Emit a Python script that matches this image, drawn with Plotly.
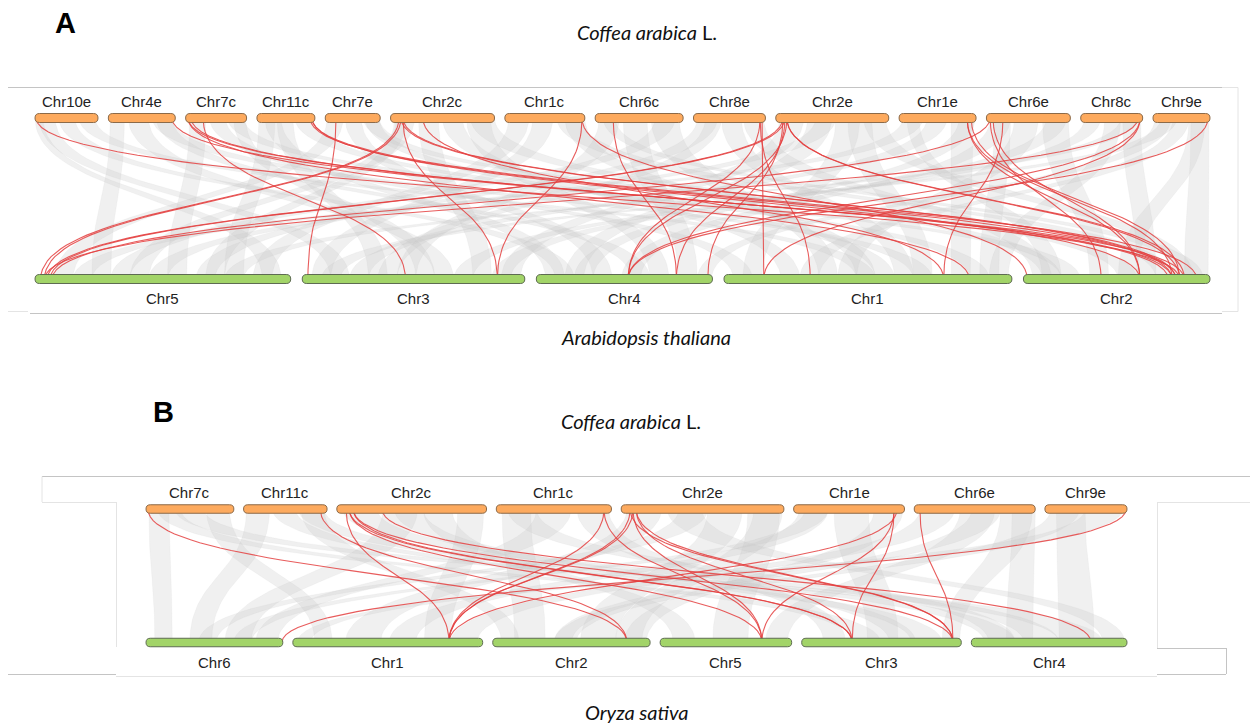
import numpy as np
import plotly.graph_objects as go

# ---------------- data ----------------
# Coffea arabica chromosome lengths (Mb)
coffea_names = ["Chr10e", "Chr4e", "Chr7c", "Chr11c", "Chr7e", "Chr2c", "Chr1c",
                "Chr6c", "Chr8e", "Chr2e", "Chr1e", "Chr6e", "Chr8c", "Chr9e"]
coffea_lengths = [31.5, 33.5, 30.5, 29.0, 27.5, 52.0, 40.0,
                  44.0, 36.0, 56.5, 38.5, 42.0, 31.0, 28.5]
# Arabidopsis thaliana chromosomes (Mb), in drawing order
arab_names = ["Chr5", "Chr3", "Chr4", "Chr1", "Chr2"]
arab_lengths = [27.0, 23.5, 18.6, 30.4, 19.7]
# Oryza sativa chromosomes (Mb), in drawing order
rice_names = ["Chr6", "Chr1", "Chr2", "Chr5", "Chr3", "Chr4"]
rice_lengths = [31.2, 43.3, 35.9, 30.0, 36.4, 35.5]
# Coffea chromosomes shown in panel B
coffea_names_B = ["Chr7c", "Chr11c", "Chr2c", "Chr1c", "Chr2e", "Chr1e", "Chr6e", "Chr9e"]

# Highlighted (red) collinear gene pairs: (coffea chr, Mb, other chr, Mb)
red_links_A = [
    ("Chr10e", 0.5, "Chr2", 16.5), ("Chr4e", 31.8, "Chr2", 17.0),
    ("Chr7c", 1.2, "Chr2", 15.7), ("Chr7c", 1.2, "Chr1", 25.9),
    ("Chr7c", 2.7, "Chr2", 15.3), ("Chr7c", 8.7, "Chr3", 10.9),
    ("Chr11c", 26.5, "Chr2", 16.1), ("Chr11c", 27.5, "Chr2", 18.3),
    ("Chr11c", 27.5, "Chr2", 12.3), ("Chr7e", 5.4, "Chr3", 0.6),
    ("Chr2c", 4.2, "Chr5", 0.6), ("Chr2c", 5.2, "Chr5", 1.0),
    ("Chr2c", 6.2, "Chr3", 20.6), ("Chr2c", 5.2, "Chr2", 15.7),
    ("Chr2c", 6.2, "Chr2", 16.1), ("Chr2c", 16.2, "Chr1", 23.2),
    ("Chr1c", 38.6, "Chr3", 20.6), ("Chr1c", 38.6, "Chr2", 0.4),
    ("Chr6c", 9.0, "Chr4", 14.8), ("Chr8e", 33.3, "Chr4", 9.7),
    ("Chr8e", 34.3, "Chr1", 4.2), ("Chr8e", 33.3, "Chr1", 9.1),
    ("Chr2e", 3.6, "Chr5", 1.3), ("Chr2e", 4.6, "Chr5", 1.6),
    ("Chr2e", 5.6, "Chr4", 9.7), ("Chr2e", 4.6, "Chr4", 14.8),
    ("Chr2e", 5.6, "Chr2", 16.5), ("Chr2e", 5.6, "Chr2", 17.0),
    ("Chr2e", 3.6, "Chr4", 18.1), ("Chr1e", 34.0, "Chr2", 15.7),
    ("Chr1e", 36.0, "Chr2", 16.5), ("Chr1e", 34.0, "Chr2", 12.3),
    ("Chr6e", 1.9, "Chr5", 1.8), ("Chr6e", 8.3, "Chr1", 23.2),
    ("Chr6e", 1.9, "Chr2", 8.2), ("Chr6e", 3.3, "Chr2", 12.3),
    ("Chr8c", 28.7, "Chr5", 1.0), ("Chr8c", 29.7, "Chr1", 4.2),
    ("Chr8c", 29.7, "Chr4", 9.7), ("Chr9e", 27.5, "Chr4", 9.7),
]
red_links_B = [
    ("Chr7c", 0.7, "Chr2", 30.6), ("Chr11c", 26.6, "Chr2", 30.6),
    ("Chr2c", 3.2, "Chr1", 35.6), ("Chr2c", 4.3, "Chr5", 23.2),
    ("Chr2c", 4.3, "Chr3", 11.5), ("Chr2c", 5.7, "Chr3", 11.5),
    ("Chr2c", 5.7, "Chr3", 34.5), ("Chr2c", 15.7, "Chr4", 27.3),
    ("Chr1c", 37.4, "Chr1", 35.6), ("Chr1c", 37.4, "Chr5", 23.2),
    ("Chr2e", 3.1, "Chr1", 35.6), ("Chr2e", 4.1, "Chr1", 35.6),
    ("Chr2e", 4.1, "Chr5", 23.2), ("Chr2e", 5.2, "Chr3", 11.5),
    ("Chr2e", 5.2, "Chr3", 34.5), ("Chr2e", 3.1, "Chr3", 34.5),
    ("Chr1e", 34.9, "Chr5", 23.2), ("Chr1e", 35.9, "Chr1", 35.6),
    ("Chr1e", 34.9, "Chr3", 11.5), ("Chr6e", 2.0, "Chr3", 34.5),
    ("Chr9e", 28.2, "Chr6", 31.0),
]

# Background (grey) syntenic blocks: (coffea chr, start, end, other chr, start, end) in Mb
grey_blocks_A = [
    ("Chr10e", 2, 10, "Chr3", 3, 5), ("Chr10e", 12, 20, "Chr4", 2, 4), ("Chr10e", 22, 30, "Chr1", 14, 16),
    ("Chr10e", 0, 4, "Chr5", 24, 26),
    ("Chr4e", 1, 8, "Chr5", 6, 8), ("Chr4e", 10, 20, "Chr3", 14, 16), ("Chr4e", 22, 32, "Chr1", 20, 22),
    ("Chr4e", 24, 32, "Chr4", 10, 12),
    ("Chr7c", 2, 10, "Chr5", 14, 16), ("Chr7c", 12, 20, "Chr1", 1, 3), ("Chr7c", 21, 29, "Chr2", 4, 6),
    ("Chr7c", 24, 30, "Chr3", 12, 14),
    ("Chr11c", 1, 9, "Chr5", 20, 22), ("Chr11c", 10, 18, "Chr3", 7, 9), ("Chr11c", 19, 28, "Chr1", 26, 28),
    ("Chr11c", 4, 12, "Chr4", 1, 3),
    ("Chr7e", 1, 9, "Chr5", 2, 4), ("Chr7e", 10, 18, "Chr4", 6, 8), ("Chr7e", 19, 27, "Chr2", 10, 12),
    ("Chr7e", 20, 27, "Chr1", 16, 18),
    ("Chr2c", 3, 12, "Chr5", 10, 12), ("Chr2c", 14, 24, "Chr3", 18, 20), ("Chr2c", 26, 36, "Chr1", 6, 8),
    ("Chr2c", 38, 50, "Chr4", 12, 14), ("Chr2c", 40, 52, "Chr2", 2, 4), ("Chr2c", 2, 8, "Chr5", 18, 20),
    ("Chr1c", 2, 12, "Chr5", 23, 25), ("Chr1c", 14, 24, "Chr3", 1, 3), ("Chr1c", 26, 38, "Chr2", 14, 16),
    ("Chr1c", 30, 40, "Chr1", 14, 16),
    ("Chr6c", 2, 12, "Chr3", 10, 12), ("Chr6c", 14, 26, "Chr4", 15, 17), ("Chr6c", 28, 42, "Chr1", 10, 12),
    ("Chr6c", 30, 40, "Chr5", 8, 10), ("Chr6c", 4, 10, "Chr2", 17, 19),
    ("Chr8e", 2, 12, "Chr5", 17, 19), ("Chr8e", 14, 24, "Chr1", 18, 20), ("Chr8e", 25, 35, "Chr2", 1, 3),
    ("Chr8e", 6, 14, "Chr3", 8, 10),
    ("Chr2e", 2, 14, "Chr3", 21, 23), ("Chr2e", 16, 28, "Chr4", 3, 5), ("Chr2e", 30, 42, "Chr1", 2, 4),
    ("Chr2e", 44, 55, "Chr2", 16, 18), ("Chr2e", 20, 30, "Chr5", 12, 14), ("Chr2e", 36, 48, "Chr1", 20, 22),
    ("Chr1e", 2, 12, "Chr5", 4, 6), ("Chr1e", 14, 24, "Chr3", 5, 7), ("Chr1e", 26, 37, "Chr1", 24, 26),
    ("Chr1e", 30, 38, "Chr4", 4, 6), ("Chr1e", 4, 10, "Chr2", 2, 4),
    ("Chr6e", 2, 12, "Chr4", 9, 11), ("Chr6e", 14, 26, "Chr1", 12, 14), ("Chr6e", 28, 41, "Chr2", 7, 9),
    ("Chr6e", 30, 40, "Chr3", 20, 22), ("Chr6e", 4, 12, "Chr1", 27, 29),
    ("Chr8c", 2, 10, "Chr3", 16, 18), ("Chr8c", 12, 20, "Chr1", 28, 30), ("Chr8c", 21, 30, "Chr2", 12, 14),
    ("Chr8c", 20, 28, "Chr5", 20, 22),
    ("Chr9e", 1, 9, "Chr4", 17, 18.5), ("Chr9e", 10, 18, "Chr1", 8, 10), ("Chr9e", 19, 28, "Chr2", 17, 19.5),
    ("Chr9e", 4, 12, "Chr3", 2, 4), ("Chr9e", 18, 26, "Chr2", 10, 12),
]
grey_blocks_B = [
    ("Chr7c", 1, 8, "Chr6", 2, 6), ("Chr7c", 10, 20, "Chr4", 20, 30), ("Chr7c", 21, 29, "Chr1", 5, 9),
    ("Chr7c", 4, 12, "Chr3", 12, 18),
    ("Chr11c", 1, 9, "Chr6", 10, 15), ("Chr11c", 10, 18, "Chr3", 25, 32), ("Chr11c", 19, 28, "Chr4", 3, 10),
    ("Chr11c", 20, 28, "Chr2", 2, 6),
    ("Chr2c", 2, 14, "Chr4", 12, 20), ("Chr2c", 16, 28, "Chr6", 18, 24), ("Chr2c", 30, 40, "Chr5", 3, 8),
    ("Chr2c", 42, 51, "Chr1", 30, 36), ("Chr2c", 20, 30, "Chr3", 20, 26),
    ("Chr1c", 2, 12, "Chr2", 5, 12), ("Chr1c", 14, 26, "Chr6", 25, 30), ("Chr1c", 28, 39, "Chr3", 5, 10),
    ("Chr1c", 4, 14, "Chr4", 4, 10),
    ("Chr2e", 2, 14, "Chr1", 12, 20), ("Chr2e", 16, 28, "Chr4", 30, 35), ("Chr2e", 30, 42, "Chr2", 20, 28),
    ("Chr2e", 44, 55, "Chr5", 12, 20), ("Chr2e", 20, 30, "Chr6", 12, 16), ("Chr2e", 46, 56, "Chr2", 28, 34),
    ("Chr1e", 2, 12, "Chr1", 22, 28), ("Chr1e", 14, 26, "Chr3", 15, 22), ("Chr1e", 28, 38, "Chr2", 30, 35),
    ("Chr1e", 4, 12, "Chr6", 20, 24),
    ("Chr6e", 2, 14, "Chr1", 36, 42), ("Chr6e", 16, 28, "Chr5", 24, 29), ("Chr6e", 30, 41, "Chr3", 32, 36),
    ("Chr6e", 20, 30, "Chr2", 14, 18), ("Chr6e", 34, 42, "Chr4", 8, 14),
    ("Chr9e", 2, 12, "Chr2", 14, 19), ("Chr9e", 14, 27, "Chr1", 1, 4), ("Chr9e", 4, 14, "Chr4", 20, 28),
]

# ---------------- layout helpers ----------------
coffea_len = dict(zip(coffea_names, coffea_lengths))
OFF = 8  # the page body margin: data units below equal page pixels


def row_layout(names, lengths, x0, x1, gap):
    scale = (x1 - x0 - gap * (len(names) - 1)) / sum(lengths)
    pos, x = {}, x0
    for n, L in zip(names, lengths):
        pos[n] = (x, x + L * scale, scale)
        x += L * scale + gap
    return pos


def bezier(x1, y1, x2, y2, n=50):
    t = np.linspace(0, 1, n)
    ym = (y1 + y2) / 2
    x = (1 - t) ** 3 * x1 + 3 * (1 - t) ** 2 * t * x1 + 3 * (1 - t) * t ** 2 * x2 + t ** 3 * x2
    y = (1 - t) ** 3 * y1 + 3 * (1 - t) ** 2 * t * ym + 3 * (1 - t) * t ** 2 * ym + t ** 3 * y2
    return x, y


def rounded_bar(xa, xb, yc, h):
    r = h / 2
    y0, y1 = yc - r, yc + r
    return (f"M{xa + r},{y0} L{xb - r},{y0} Q{xb},{y0} {xb},{yc} Q{xb},{y1} {xb - r},{y1} "
            f"L{xa + r},{y1} Q{xa},{y1} {xa},{yc} Q{xa},{y0} {xa + r},{y0} Z")


fig = go.Figure()
shapes = []
annotations = []

ORANGE, ORANGE_LINE = "#FDAA5E", "#8C6A48"
GREEN, GREEN_LINE = "#A2D468", "#5E6B52"
GREY_FILL = "rgba(200,200,200,0.27)"
GREY_LINE = "rgba(190,190,190,0.18)"
RED = "rgba(228,64,64,0.85)"
LABEL_FONT = dict(family="Liberation Sans, Arial", size=15, color="#222222")
TITLE_FONT = dict(family="Lato, Open Sans", size=20, color="#111111")


def draw_panel(top_names, top_lengths, bot_names, bot_lengths, xr, gaps, ytop, ybot, h,
               blocks, reds, top_label_y, bot_label_y):
    top = row_layout(top_names, top_lengths, xr[0], xr[1], gaps[0])
    bot = row_layout(bot_names, bot_lengths, xr[0], xr[1], gaps[1])
    for tc, ts, te, bc, bs, be in blocks:
        tx0 = top[tc][0] + ts * top[tc][2]
        tx1 = top[tc][0] + te * top[tc][2]
        bx0 = bot[bc][0] + bs * bot[bc][2]
        bx1 = bot[bc][0] + be * bot[bc][2]
        ax, ay = bezier(tx0, ytop, bx0, ybot)
        cx, cy = bezier(bx1, ybot, tx1, ytop)
        xs = np.concatenate([ax, cx, [ax[0]]])
        ys = np.concatenate([ay, cy, [ay[0]]])
        fig.add_trace(go.Scatter(x=xs, y=ys, mode="lines", fill="toself",
                                 fillcolor=GREY_FILL, line=dict(color=GREY_LINE, width=0.5),
                                 hoverinfo="skip", showlegend=False))
    rx, ry = [], []
    for tc, tp, bc, bp in reds:
        x1 = top[tc][0] + tp * top[tc][2]
        x2 = bot[bc][0] + bp * bot[bc][2]
        bx, by = bezier(x1, ytop, x2, ybot)
        rx += list(bx) + [None]
        ry += list(by) + [None]
    fig.add_trace(go.Scatter(x=rx, y=ry, mode="lines", line=dict(color=RED, width=1.1),
                             hoverinfo="skip", showlegend=False))
    for n in top_names:
        xa, xb, _ = top[n]
        shapes.append(dict(type="path", xref="x", yref="y", path=rounded_bar(xa, xb, ytop, h),
                           fillcolor=ORANGE, line=dict(color=ORANGE_LINE, width=1), layer="above"))
        annotations.append(dict(x=(xa + xb) / 2, y=top_label_y, xref="x", yref="y", text=n,
                                showarrow=False, font=LABEL_FONT))
    for n in bot_names:
        xa, xb, _ = bot[n]
        shapes.append(dict(type="path", xref="x", yref="y", path=rounded_bar(xa, xb, ybot, h),
                           fillcolor=GREEN, line=dict(color=GREEN_LINE, width=1), layer="above"))
        annotations.append(dict(x=(xa + xb) / 2, y=bot_label_y, xref="x", yref="y", text=n,
                                showarrow=False, font=LABEL_FONT))


draw_panel(coffea_names, coffea_lengths, arab_names, arab_lengths,
           (35, 1210), (10.3, 11.5), 118, 279, 9, grey_blocks_A, red_links_A, 101, 298)
draw_panel(coffea_names_B, [coffea_len[n] for n in coffea_names_B], rice_names, rice_lengths,
           (146, 1127), (9.7, 10), 509, 642.5, 8.5, grey_blocks_B, red_links_B, 492, 662)

# frame lines (screenshot borders)
FR = "#c4c4c4"
FR2 = "#e4e4e4"
frame_lines = [
    (8, 87.5, 1222, 87.5, FR), (8, 311.5, 28, 311.5, FR2), (30, 313.5, 1222, 313.5, FR),
    (1222, 87.5, 1238, 87.5, FR2), (1238, 87.5, 1238, 311.5, FR2), (1222, 311.5, 1238, 311.5, FR2),
    (42, 476.5, 1258, 476.5, FR), (42, 476.5, 42, 502, FR2), (42, 502.5, 116, 502.5, FR2),
    (116.5, 502, 116.5, 647, FR2), (1157, 502.5, 1258, 502.5, FR2),
    (1157.5, 502, 1157.5, 648, FR2), (1157, 648.5, 1226, 648.5, FR),
    (1226.5, 648, 1226.5, 674, FR), (8, 674.5, 116, 674.5, FR), (116, 676.5, 1157, 676.5, FR2),
    (1157, 674.5, 1226, 674.5, FR),
]
for x0, y0, x1, y1, c in frame_lines:
    shapes.append(dict(type="line", xref="x", yref="y", x0=x0, y0=y0, x1=x1, y1=y1,
                       line=dict(color=c, width=1), layer="below"))

texts = [
    (65, 23, "<b>A</b>", dict(family="Liberation Sans, Arial", size=29, color="#000")),
    (163, 412, "<b>B</b>", dict(family="Liberation Sans, Arial", size=29, color="#000")),
    (647, 32, "<i>Coffea arabica</i> L.", TITLE_FONT),
    (646, 337, "<i>Arabidopsis thaliana</i>", TITLE_FONT),
    (631, 421, "<i>Coffea arabica</i> L.", TITLE_FONT),
    (636, 712, "<i>Oryza sativa</i>", TITLE_FONT),
]
for x, y, t, f in texts:
    annotations.append(dict(x=x, y=y, xref="x", yref="y", text=t, showarrow=False, font=f))

fig.update_layout(
    width=1258, height=723, margin=dict(l=0, r=0, t=0, b=0),
    paper_bgcolor="white", plot_bgcolor="white", showlegend=False,
    xaxis=dict(range=[OFF, 1258 + OFF], visible=False, fixedrange=True),
    yaxis=dict(range=[723 + OFF, OFF], visible=False, fixedrange=True),
    shapes=shapes, annotations=annotations,
)
fig.write_html("out.html")
